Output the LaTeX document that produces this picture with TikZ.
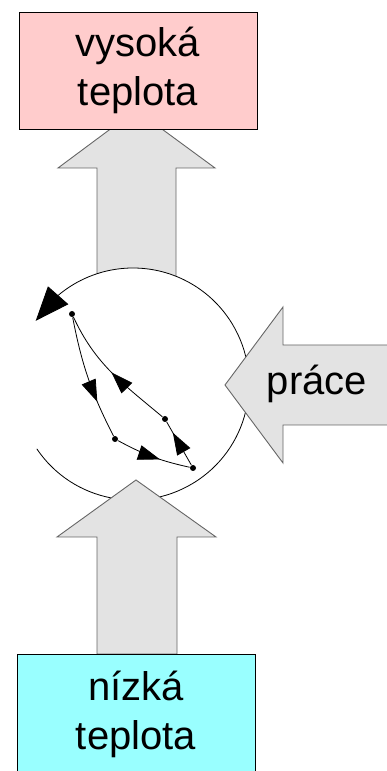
\documentclass[tikz,border=0pt]{standalone}
\usepackage{fontspec}
\setmainfont{Liberation Sans}
\usetikzlibrary{arrows.meta}
\usetikzlibrary{bending}
\usetikzlibrary{decorations.markings}
\usetikzlibrary{calc}

\definecolor{hot}{RGB}{255, 204, 204}
\definecolor{cold}{RGB}{153, 255, 255}
\definecolor{flowgray}{RGB}{227, 227, 227}

\tikzset{
	tempbox/.style = {draw, line width = 0.9pt, minimum width = 238pt, inner sep = 0pt, align = center, font = \fontsize{40}{49}\selectfont},
	bigarrow/.style = {draw = black!60, fill = flowgray, line width = 0.9pt},
	dot/.style = {circle, fill, inner sep = 0pt, minimum size = 6pt},
	flow/.style = {postaction = {decorate}, decoration = {markings, mark = at position #1 with {\arrow{Triangle[length = 22pt, width = 15pt]}}}}
}

\begin{document}
\begin{tikzpicture}[x = 1pt, y = 1pt, line width = 0.8pt]
		\useasboundingbox (0, 0) rectangle (386, 771);
		\coordinate (ring) at (133, 387);

		% heat out, to the hot side
		\draw [bigarrow] (97, 470) -- (97, 603) -- (58, 603) -- (136, 661) -- (215, 603) -- (176, 603) -- (176, 470) -- cycle;
		\node [tempbox, fill = hot, minimum height = 117pt] (hot) at (138, 700.5) {vysoká\\teplota};

		% the cycle circle
		\fill [white] (ring) circle (116);
		\draw [-{Triangle[length = 34pt, width = 27pt]}] ($(ring) + (-146:116)$) arc [start angle = -146, end angle = 147, radius = 116];

		% work in
		\draw [bigarrow] (400, 426) -- (283, 426) -- (283, 464) -- (225, 386) -- (283, 308) -- (283, 346) -- (400, 346) -- cycle;
		\node [font = \fontsize{40}{49}\selectfont, anchor = base] (work) at (317, 376) {práce};

		% heat in, from the cold side
		\draw [bigarrow] (97, 117) -- (97, 234) -- (57, 234) -- (136, 291) -- (216, 234) -- (177, 234) -- (177, 117) -- cycle;
		\node [tempbox, fill = cold, minimum height = 130pt] (cold) at (136, 52) {};
		\node [font = \fontsize{40}{49}\selectfont, align = center] (coldtext) at (136, 57) {nízká\\teplota};

		% states of the cycle
		\node [dot] (a) at (72, 457) {};
		\node [dot] (b) at (165, 352) {};
		\node [dot] (c) at (115, 332) {};
		\node [dot] (d) at (193, 303) {};

		\draw [flow = 0.7] (a) to [bend right = 8] (c);
		\draw [flow = 0.6] (c) to [bend right = 8] (d);
		\draw [flow = 0.75] (d) -- (b);
		\draw [flow = 0.5] (b) to [out = 140, in = -65] (a);
	\end{tikzpicture}
\end{document}
